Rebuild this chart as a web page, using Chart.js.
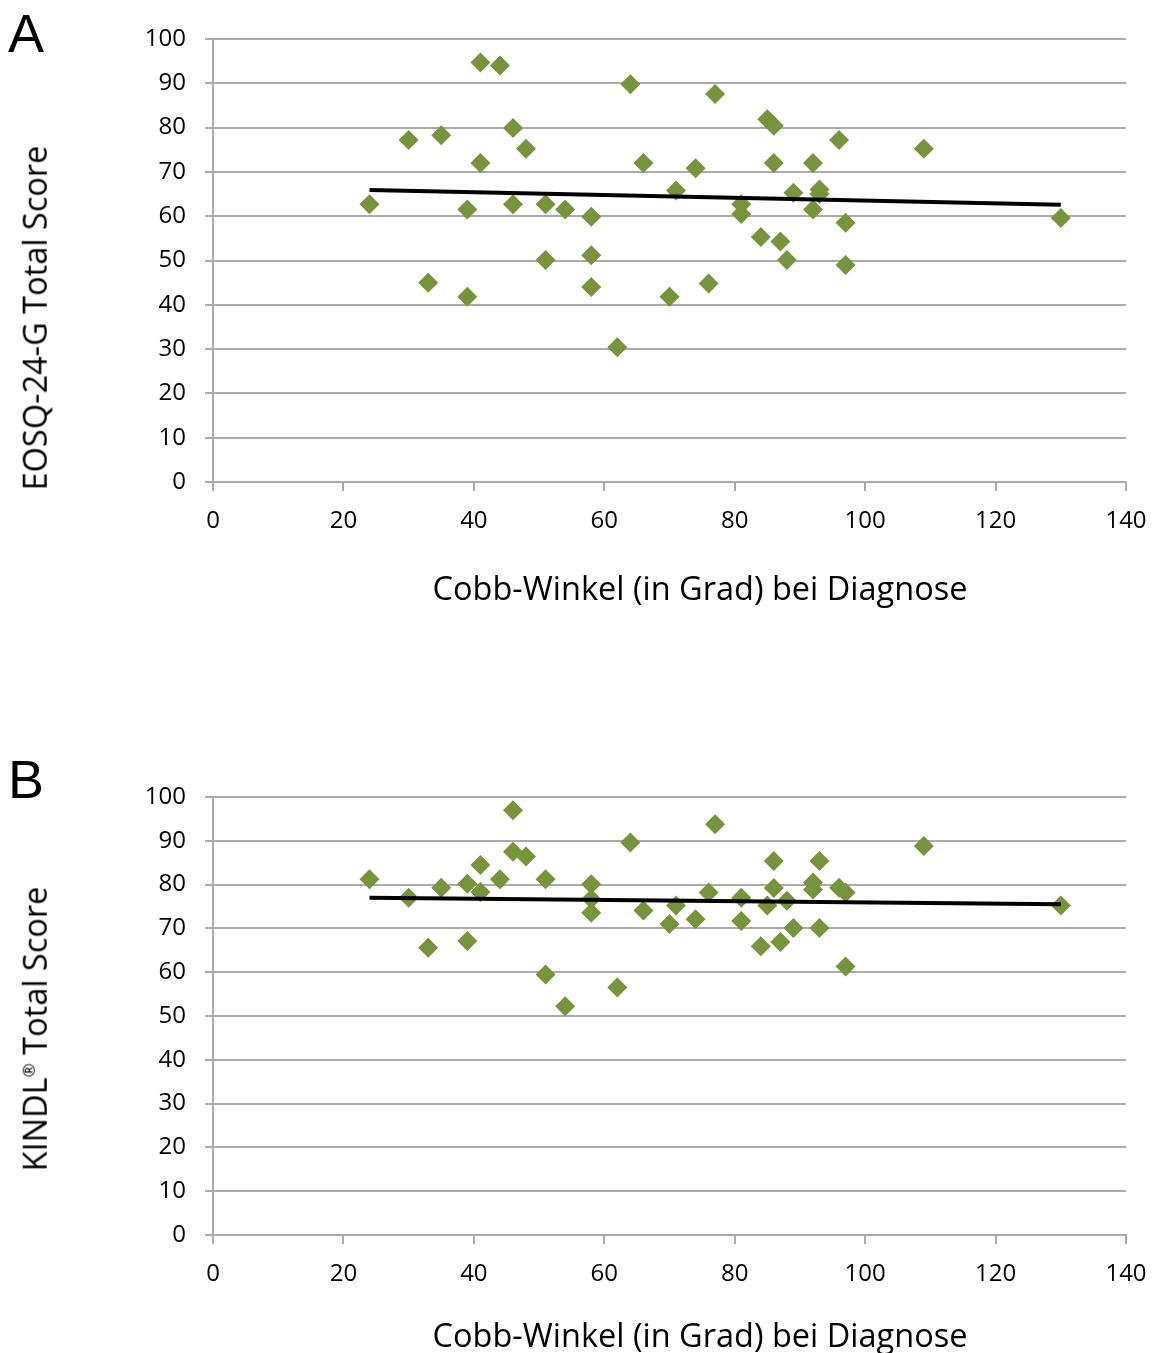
<!DOCTYPE html>
<html>
<head>
<meta charset="utf-8">
<title>Cobb-Winkel vs. EOSQ-24-G / KINDL</title>
<script src="https://cdn.jsdelivr.net/npm/chart.js@4.4.0/dist/chart.umd.min.js"></script>
<style>
    body { margin: 0; background: #fff; width: 1158px; height: 1353px; position: relative; overflow: hidden;
           font-family: 'Open Sans', sans-serif; color: #000; }
    .box { position: absolute; left: 0; width: 1158px; }
    #boxA { top: 0; height: 660px; }
    #boxB { top: 740px; height: 613px; }
    .letter { position: absolute; left: 8px; font-family: 'Liberation Sans', Arial, sans-serif; font-size: 54px; line-height: 1; }
    .xtitle { position: absolute; font-size: 32.5px; line-height: 1; white-space: nowrap; transform: translate(-50%, -50%); }
    .ytitle { position: absolute; font-size: 32.5px; line-height: 1; white-space: nowrap; transform: translate(-50%, -50%) rotate(-90deg); }
</style>
</head>
<body>

<div class="letter" style="top:6px">A</div>
<div class="letter" style="top:752px">B</div>

<div class="box" id="boxA"><canvas id="chartA"></canvas></div>
<div class="box" id="boxB"><canvas id="chartB"></canvas></div>

<div class="ytitle" style="left:35px; top:318px">EOSQ-24-G Total Score</div>
<div class="xtitle" style="left:700px; top:588px">Cobb-Winkel (in Grad) bei Diagnose</div>
<div class="ytitle" style="left:35px; top:1029px">KINDL<sup style="font-size:17px">®</sup> Total Score</div>
<div class="xtitle" style="left:700px; top:1335px">Cobb-Winkel (in Grad) bei Diagnose</div>

<script>
// ---- data ----
const cobbAngle = [24, 30, 33, 35, 39, 39, 41, 41, 44, 46, 46, 48, 51, 51, 54, 58, 58, 58, 62, 64, 66, 70,
                   71, 74, 76, 77, 81, 81, 84, 85, 86, 86, 87, 88, 89, 92, 92, 93, 93, 96, 97, 97, 109, 130];

const eosqScore = [62.7, 77.2, 45.0, 78.3, 61.5, 41.8, 94.7, 72.0, 94.0, 79.9, 62.7, 75.2, 62.7, 50.1, 61.5,
                   59.9, 51.2, 44.0, 30.4, 89.8, 72.0, 41.8, 65.8, 70.8, 44.8, 87.6, 62.7, 60.5, 55.3, 81.9,
                   80.4, 72.0, 54.3, 50.1, 65.3, 72.0, 61.5, 66.0, 65.0, 77.2, 58.5, 49.0, 75.2, 59.6];

const kindlScore = [81.2, 77.0, 65.6, 79.3, 80.2, 67.1, 84.5, 78.3, 81.2, 97.0, 87.5, 86.4, 81.2, 59.5, 52.2,
                    80.1, 76.7, 73.6, 56.5, 89.6, 74.1, 71.0, 75.2, 72.1, 78.2, 93.8, 77.0, 71.7, 65.9, 75.2,
                    85.4, 79.2, 66.9, 76.3, 70.1, 80.5, 78.9, 85.4, 70.1, 79.3, 78.2, 61.3, 88.8, 75.2];

// linear trend lines (endpoints as drawn)
const trendX = [24, 130];
const eosqTrend = [65.9, 62.6];
const kindlTrend = [77.0, 75.5];

const xTicks = { min: 0, max: 140, step: 20 };
const yTicks = { min: 0, max: 100, step: 10 };

// ---- styling ----
const GREEN = '#77933c';
const GRID = '#ababab';

Chart.defaults.font.family = "'Open Sans', sans-serif";
Chart.defaults.color = '#000';

function pts(xs, ys) {
    return xs.map((x, i) => ({ x: x, y: ys[i] }));
}

function buildScatter(canvasId, scores, trend, pad) {
    const ctx = document.getElementById(canvasId);
    return new Chart(ctx, {
        type: 'scatter',
        data: {
            datasets: [
                {
                    type: 'line',
                    data: pts(trendX, trend),
                    borderColor: '#000',
                    borderWidth: 4,
                    pointRadius: 0,
                    fill: false,
                    order: 0
                },
                {
                    data: pts(cobbAngle, scores),
                    pointStyle: 'rectRot',
                    pointRadius: 10,
                    pointHoverRadius: 10,
                    backgroundColor: GREEN,
                    borderWidth: 0,
                    order: 1
                }
            ]
        },
        options: {
            responsive: true,
            maintainAspectRatio: false,
            animation: false,
            events: [],
            layout: { padding: pad },
            plugins: { legend: { display: false }, tooltip: { enabled: false } },
            scales: {
                x: {
                    type: 'linear',
                    min: xTicks.min, max: xTicks.max,
                    ticks: { stepSize: xTicks.step, padding: 16, font: { size: 24 }, maxRotation: 0 },
                    grid: { drawOnChartArea: false, drawTicks: true, tickLength: 9, color: GRID, lineWidth: 2 },
                    border: { color: GRID, width: 2 },
                    afterFit: s => { s.height = 60; s.paddingLeft = 0; s.paddingRight = 0; }
                },
                y: {
                    min: yTicks.min, max: yTicks.max,
                    ticks: { stepSize: yTicks.step, padding: 19, font: { size: 24 } },
                    grid: { color: GRID, lineWidth: 2, tickLength: 8 },
                    border: { color: GRID, width: 2 },
                    afterFit: s => { s.width = 80; s.paddingTop = 0; s.paddingBottom = 0; }
                }
            }
        }
    });
}

buildScatter('chartA', eosqScore, eosqTrend, { left: 133, right: 32, top: 39, bottom: 118 });
buildScatter('chartB', kindlScore, kindlTrend, { left: 133, right: 32, top: 57, bottom: 58 });
</script>
</body>
</html>
